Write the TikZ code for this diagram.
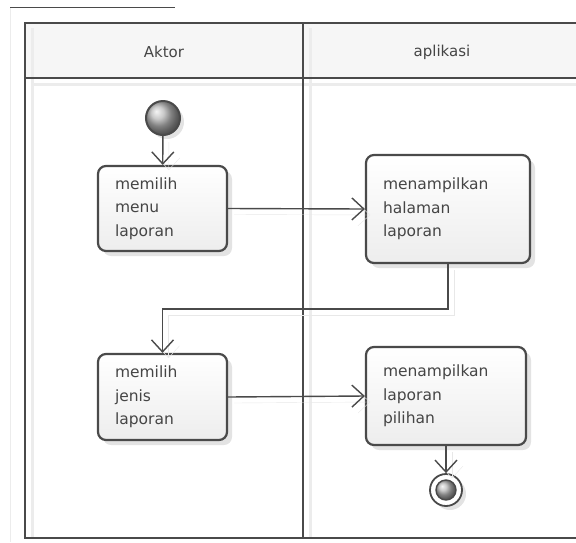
\documentclass[tikz,border=0pt]{standalone}
\usepackage{fontspec}
\setsansfont{DejaVu Sans}
\usetikzlibrary{positioning}
\usetikzlibrary{arrows.meta}
\usetikzlibrary{shadows}
\definecolor{edge}{HTML}{4A4A4A}
\definecolor{txt}{HTML}{454545}
\tikzset{>={Straight Barb[length=12pt,width=22pt]}}
\tikzset{lane/.style={draw=edge, line width=2.4pt}}
\tikzset{laneshade/.style={draw=gray!15, line width=3pt}}
\tikzset{act/.style={draw=edge, line width=2.2pt, rounded corners=8pt,
    top color=white, bottom color=gray!14,
    drop shadow={shadow xshift=5pt, shadow yshift=-5pt, fill=gray!22, opacity=1},
    align=left, inner xsep=17pt, text=txt,
    font=\sffamily\fontsize{15.5}{23.5}\selectfont}}
\tikzset{initnode/.style={circle, draw=edge, line width=2pt, minimum size=34pt, inner sep=0pt,
    shading=ball, ball color=gray!55,
    drop shadow={shadow xshift=4pt, shadow yshift=-4pt, fill=gray!22, opacity=1}}}
\tikzset{endring/.style={circle, draw=edge, line width=1.8pt, minimum size=32pt, inner sep=0pt, fill=white,
    drop shadow={shadow xshift=4pt, shadow yshift=-4pt, fill=gray!22, opacity=1}}}
\tikzset{enddot/.style={circle, draw=edge, line width=1.4pt, minimum size=20pt, inner sep=0pt,
    shading=ball, ball color=gray!55}}
\tikzset{flow/.style={->, draw=edge, line width=1.4pt,
    preaction={draw=gray!18, transform canvas={shift={(6pt,-6pt)}}}}}
\tikzset{head/.style={text=txt, font=\sffamily\fontsize{15}{18}\selectfont}}

\begin{document}
\begin{tikzpicture}[x=1pt, y=-1pt]
\useasboundingbox (0,0) rectangle (576,542);

% page corner
\draw[gray!15, line width=1pt] (10,7) -- (10,542);
\draw[edge, line width=1pt] (10,7) -- (175,7);

% swimlanes
\fill[gray!7] (25,23) rectangle (581,78);
\draw[laneshade] (32,28) -- (32,538);
\draw[laneshade] (310,28) -- (310,538);
\draw[laneshade] (32,84) -- (581,84);
\draw[lane] (25,23) rectangle (581,538);
\draw[lane] (25,78) -- (581,78);
\draw[lane] (303,23) -- (303,538);

\node[head] (aktor) at (164,52) {Aktor};
\node[head] (aplikasi) at (442,52) {aplikasi};

% activities
\node[initnode] (init) at (163,118) {};
\node[act, text width=95pt, minimum width=129pt, minimum height=85pt] (menu) at (162.5,208.5)
  {memilih\\menu\\laporan};
\node[act, text width=130pt, minimum width=162pt, minimum height=108pt] (halaman) at (448,209)
  {menampilkan\\halaman\\laporan};
\node[act, text width=95pt, minimum width=129pt, minimum height=86pt] (jenis) at (162.5,397)
  {memilih\\jenis\\laporan};
\node[act, text width=126pt, minimum width=158pt, minimum height=98pt] (pilihan) at (446,396)
  {menampilkan\\laporan\\pilihan};
\node[endring] (final) at (446,490) {};
\node[enddot] (finaldot) at (final) {};

\coordinate (bend) at (162.5,309);

\draw[flow] (init) -- (menu);
\draw[flow] (menu.east) -- (halaman.west);
\draw[flow] (halaman.south) |- (bend) -- (jenis.north);
\draw[flow] (jenis.east) -- (pilihan.west);
\draw[flow] (pilihan.south) -- (final);
\end{tikzpicture}
\end{document}
